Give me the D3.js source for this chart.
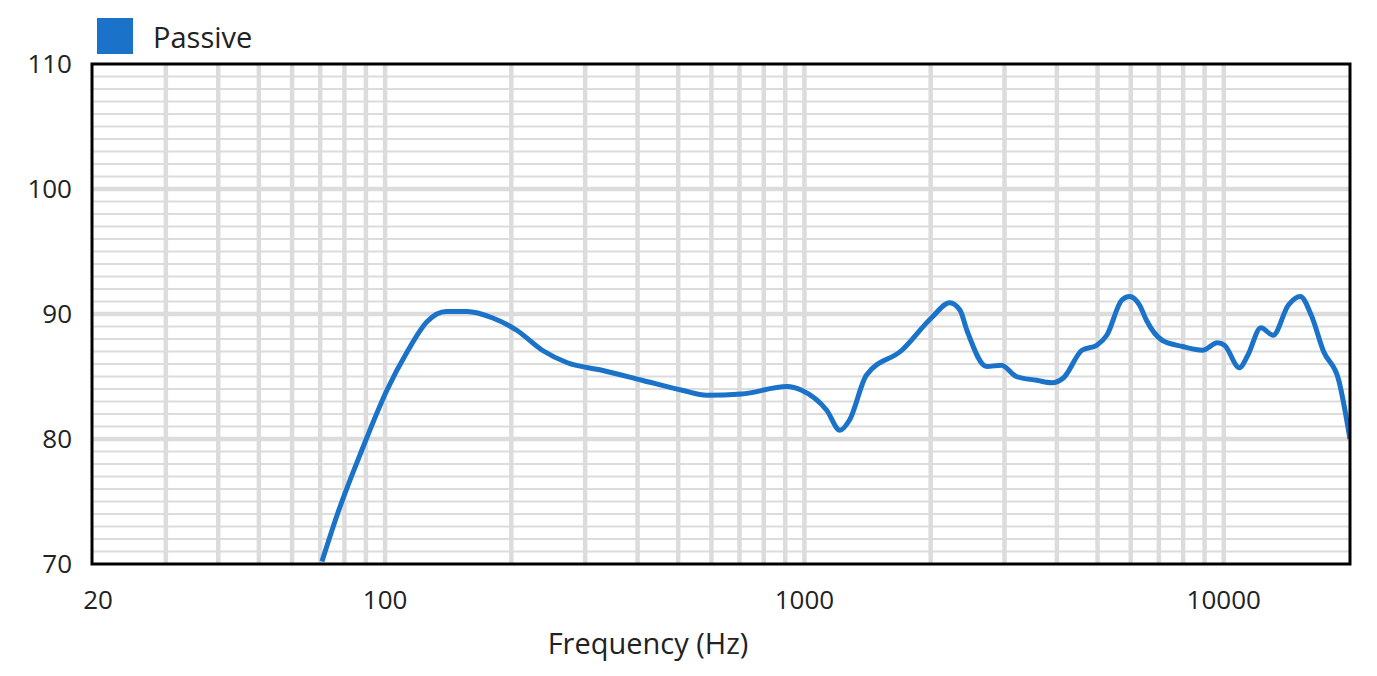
<!DOCTYPE html><html><head><meta charset="utf-8"><script src="https://cdn.jsdelivr.net/npm/d3@7"></script>
<style>body{margin:0;background:#fff}text{font-family:"Open Sans",Lato,sans-serif;fill:#222}</style></head><body><svg id="c" width="1377" height="676"></svg><script>
const freqs=[70.7,76.8,88,101,113,126,140,157,180,206,237,272,329,410,511,585,708,909,985,1130,1215,1280,1405,1707,2010,2220,2350,2440,2720,2950,3200,3580,3890,4150,4590,4980,5260,5710,5960,6300,6540,7130,7970,8900,9660,10040,10900,11410,12260,13110,14250,15220,16170,17300,18800,20000];
const spl=[70.2,73.9,79.1,83.9,87,89.4,90.2,90.2,89.7,88.7,87.1,86.1,85.5,84.7,83.9,83.5,83.6,84.2,83.9,82.3,80.7,81.5,85.1,87.1,89.7,90.9,90.3,88.7,85.8,85.9,85,84.7,84.5,84.9,87.1,87.5,88.3,91.1,91.4,90.7,89.5,87.9,87.4,87.1,87.7,87.5,85.7,86.7,88.9,88.3,90.7,91.4,89.9,87,84.7,80];
const xTicks=[20,100,1000,10000];
const yTicks=[70,80,90,100,110];
const seriesName="Passive";
const L=92,R=1350,T=64,B=564,blue="#1a73c8";
const svg=d3.select("#c");
const x=d3.scaleLog().domain([20,20000]).range([L,R]);
const y=d3.scaleLinear().domain([70,110]).range([B,T]);
const g=svg.append("g");
const vf=[];for(let d=10;d<=10000;d*=10)for(let k=1;k<=9;k++){const f=d*k;if(f>20&&f<20000)vf.push(f);}
g.selectAll(".v").data(vf).join("line").attr("x1",d=>x(d)).attr("x2",d=>x(d)).attr("y1",T).attr("y2",B).attr("stroke","#dcdcdc").attr("stroke-width",4.5);
g.selectAll(".h").data(d3.range(71,110)).join("line").attr("x1",L).attr("x2",R).attr("y1",d=>y(d)).attr("y2",d=>y(d)).attr("stroke","#dcdcdc").attr("stroke-width",d=>d%10==0?4.5:2.2);
const clip=svg.append("clipPath").attr("id","cp").append("rect").attr("x",L).attr("y",T).attr("width",R-L).attr("height",B-T);
svg.append("path").datum(freqs.map((f,i)=>[f,spl[i]])).attr("clip-path","url(#cp)").attr("fill","none").attr("stroke",blue).attr("stroke-width",5).attr("stroke-linejoin","round")
 .attr("d",d3.line().x(d=>x(d[0])).y(d=>y(d[1])).curve(d3.curveMonotoneX));
svg.append("rect").attr("x",L).attr("y",T).attr("width",R-L).attr("height",B-T).attr("fill","none").attr("stroke","#000").attr("stroke-width",3);
svg.selectAll(".yt").data(yTicks).join("text").attr("x",72).attr("y",d=>y(d)+9).attr("text-anchor","end").attr("font-size",26).text(d=>d);
svg.selectAll(".xt").data(xTicks).join("text").attr("x",d=>d==20?98:x(d)).attr("y",609).attr("text-anchor","middle").attr("font-size",26).text(d=>d);
svg.append("text").attr("x",648).attr("y",654).attr("text-anchor","middle").attr("font-size",29).text("Frequency (Hz)");
svg.append("rect").attr("x",97).attr("y",18).attr("width",36).attr("height",36).attr("fill",blue);
svg.append("text").attr("x",153).attr("y",48).attr("font-size",29).text(seriesName);
</script></body></html>
